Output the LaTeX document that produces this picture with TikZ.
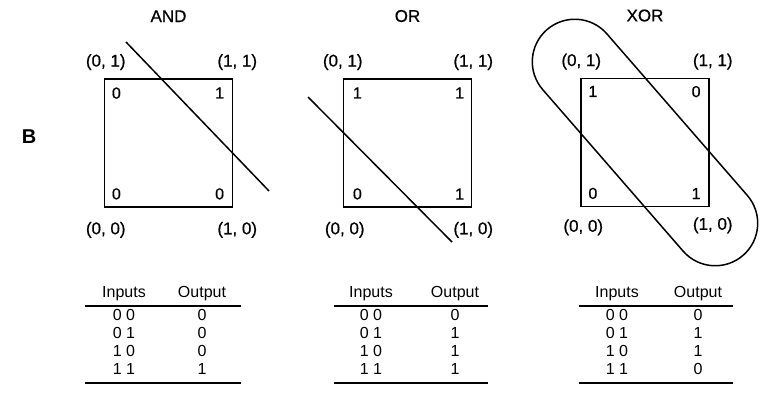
\documentclass[tikz,border=0pt]{standalone}
\usepackage{fontspec}
\setmainfont{Liberation Sans}
\newfontfamily\scanfont[FakeBold=0.6]{Liberation Sans}
\usepackage{tikz}
\usetikzlibrary{positioning, calc}

\begin{document}
\begin{tikzpicture}[
  x=1pt, y=-1pt,
  gatename/.style={font=\scanfont\fontsize{17}{20}\selectfont, inner sep=0pt},
  unitsq/.style={draw, line width=1.5pt, minimum size=128pt, inner sep=0pt},
  corner/.style={font=\scanfont\fontsize{17}{20}\selectfont, inner sep=0pt},
  val/.style={font=\scanfont\fontsize{16}{19}\selectfont, inner sep=0pt},
  cell/.style={font=\fontsize{16}{19}\selectfont, inner sep=0pt},
  cutline/.style={line width=1.5pt},
  tabrule/.style={line width=1.2pt},
]
\useasboundingbox (0,0) rectangle (760,393);

\node[font=\fontsize{20}{24}\selectfont\bfseries, inner sep=0pt] (panel) at (29,137) {B};

% AND
\node[unitsq] (andsq) at (168.5,143) {};
\node[gatename, above=56pt of andsq] (andname) {AND};
\node[corner, above=8pt of andsq.north west, xshift=2pt] (and01) {(0, 1)};
\node[corner, above=8pt of andsq.north east, xshift=4pt] (and11) {(1, 1)};
\node[corner, below=14pt of andsq.south west, xshift=2pt] (and00) {(0, 0)};
\node[corner, below=14pt of andsq.south east, xshift=4pt] (and10) {(1, 0)};
\node[val, below right=9pt and 8pt of andsq.north west] (andv01) {0};
\node[val, below left=9pt and 9pt of andsq.north east]  (andv11) {1};
\node[val, above right=8pt and 8pt of andsq.south west] (andv00) {0};
\node[val, above left=8pt and 9pt of andsq.south east]  (andv10) {0};
\coordinate (andcutA) at (126,42);
\coordinate (andcutB) at (269,191);
\draw[cutline] (andcutA) -- (andcutB);

% OR
\node[unitsq] (orsq) at (407.5,143) {};
\node[gatename, above=56pt of orsq] (orname) {OR};
\node[corner, above=8pt of orsq.north west, xshift=0pt] (or01) {(0, 1)};
\node[corner, below=14pt of orsq.south west, xshift=2pt] (or00) {(0, 0)};
\node[corner, above=8pt of orsq.north east, xshift=1pt] (or11) {(1, 1)};
\node[corner, below=14pt of orsq.south east, xshift=1pt] (or10) {(1, 0)};
\node[val, below right=9pt and 10pt of orsq.north west] (orv01) {1};
\node[val, below left=9pt and 8pt of orsq.north east]   (orv11) {1};
\node[val, above right=8pt and 10pt of orsq.south west] (orv00) {0};
\node[val, above left=8pt and 8pt of orsq.south east]   (orv10) {1};
\coordinate (orcutA) at (308,97);
\coordinate (orcutB) at (452,242);
\draw[cutline] (orcutA) -- (orcutB);

% XOR
\node[unitsq] (xorsq) at (645,142.5) {};
\node[gatename, above=56pt of xorsq] (xorname) {XOR};
\node[corner, above=8pt of xorsq.north west, xshift=1pt] (xor01) {(0, 1)};
\node[corner, above=8pt of xorsq.north east, xshift=3pt] (xor11) {(1, 1)};
\node[corner, below=12pt of xorsq.south west, xshift=3pt] (xor00) {(0, 0)};
\node[corner, below=10pt of xorsq.south east, xshift=3pt] (xor10) {(1, 0)};
\node[val, below right=8pt and 8pt of xorsq.north west] (xorv01) {1};
\node[val, below left=8pt and 9pt of xorsq.north east]  (xorv11) {0};
\node[val, above right=8pt and 8pt of xorsq.south west] (xorv00) {0};
\node[val, above left=8pt and 9pt of xorsq.south east]  (xorv10) {1};
\node[draw, cutline, rectangle, rounded corners=42.5pt,
      minimum width=299pt, minimum height=85pt, inner sep=0pt,
      rotate=-49] (xorloop) at (xorsq.center) {};

% truth tables
\node[cell] (andin)  at (124,294) {Inputs};
\node[cell] (andout) at (202,294) {Output};
\coordinate (andtl) at (85,306);  \coordinate (andtr) at (241,306);
\coordinate (andbl) at (85,383);  \coordinate (andbr) at (241,383);
\draw[tabrule] (andtl) -- (andtr);
\draw[tabrule] (andbl) -- (andbr);
\foreach \a/\o [count=\r] in {0 0/0, 0 1/0, 1 0/0, 1 1/1} {
  \node[cell] (andi\r) at ($(andin)+(0,3+18*\r)$) {\a};
  \node[cell] (ando\r) at ($(andout)+(0,3+18*\r)$) {\o};
}

\node[cell] (orin)  at (371,294) {Inputs};
\node[cell] (orout) at (455,294) {Output};
\coordinate (ortl) at (334,306);  \coordinate (ortr) at (488,306);
\coordinate (orbl) at (334,383);  \coordinate (orbr) at (488,383);
\draw[tabrule] (ortl) -- (ortr);
\draw[tabrule] (orbl) -- (orbr);
\foreach \a/\o [count=\r] in {0 0/0, 0 1/1, 1 0/1, 1 1/1} {
  \node[cell] (ori\r) at ($(orin)+(0,3+18*\r)$) {\a};
  \node[cell] (oro\r) at ($(orout)+(0,3+18*\r)$) {\o};
}

\node[cell] (xorin)  at (617,294) {Inputs};
\node[cell] (xorout) at (698,294) {Output};
\coordinate (xortl) at (579,306);  \coordinate (xortr) at (733,306);
\coordinate (xorbl) at (579,383);  \coordinate (xorbr) at (733,383);
\draw[tabrule] (xortl) -- (xortr);
\draw[tabrule] (xorbl) -- (xorbr);
\foreach \a/\o [count=\r] in {0 0/0, 0 1/1, 1 0/1, 1 1/0} {
  \node[cell] (xori\r) at ($(xorin)+(0,3+18*\r)$) {\a};
  \node[cell] (xoro\r) at ($(xorout)+(0,3+18*\r)$) {\o};
}
\end{tikzpicture}
\end{document}
